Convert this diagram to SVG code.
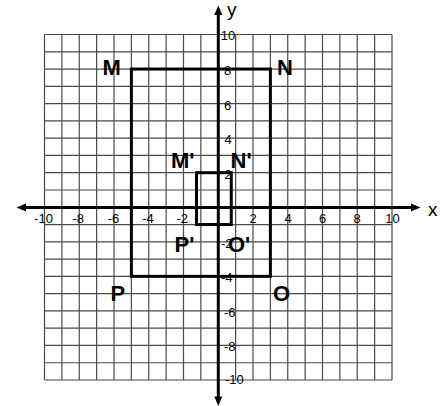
<svg xmlns="http://www.w3.org/2000/svg" width="445" height="406" viewBox="0 0 445 406">
<style>
.grid{stroke:#4a4a4a;stroke-width:1.2;fill:none}
.axis{stroke:#000;stroke-width:3;fill:none}
.rect{stroke:#000;stroke-width:3;fill:none}
.tick{font-family:"Liberation Sans",Arial,sans-serif;font-size:13px;fill:#000}
.tx{text-anchor:middle}
.lbl{font-family:"Liberation Sans",Arial,sans-serif;font-size:22px;font-weight:bold;fill:#000}
.ax{font-family:"Liberation Sans",Arial,sans-serif;font-size:19px;fill:#000}
</style>
<rect width="445" height="406" fill="#fff"/>
<g id="grid">
<path class="grid" d="M44.5 34.5V380M61.875 34.5V380M79.25 34.5V380M96.625 34.5V380M114 34.5V380M131.375 34.5V380M148.75 34.5V380M166.125 34.5V380M183.5 34.5V380M200.875 34.5V380M218.25 34.5V380M235.625 34.5V380M253 34.5V380M270.375 34.5V380M287.75 34.5V380M305.125 34.5V380M322.5 34.5V380M339.875 34.5V380M357.25 34.5V380M374.625 34.5V380M392 34.5V380
M44.5 34.5H392M44.5 51.775H392M44.5 69.05H392M44.5 86.325H392M44.5 103.6H392M44.5 120.875H392M44.5 138.15H392M44.5 155.425H392M44.5 172.7H392M44.5 189.975H392M44.5 207.25H392M44.5 224.525H392M44.5 241.8H392M44.5 259.075H392M44.5 276.35H392M44.5 293.625H392M44.5 310.9H392M44.5 328.175H392M44.5 345.45H392M44.5 362.725H392M44.5 380H392"/>
</g>
<g id="axes">
<path class="axis" d="M24 207.5H412M218.3 14V399"/>
<polygon points="16.5,207.5 26,203.5 26,211.5" fill="#000"/>
<polygon points="420.5,207.5 411,203.5 411,211.5" fill="#000"/>
<polygon points="218.3,5.5 214.3,15 222.3,15" fill="#000"/>
<polygon points="218.3,406 214.3,396.5 222.3,396.5" fill="#000"/>
<text class="ax" x="428" y="215.5">x</text>
<text class="ax" x="227" y="15.5">y</text>
</g>
<g id="x-ticks">
<text class="tick tx" x="43.5" y="222.5">-10</text>
<text class="tick tx" x="78.3" y="222.5">-8</text>
<text class="tick tx" x="113.5" y="222.5">-6</text>
<text class="tick tx" x="148" y="222.5">-4</text>
<text class="tick tx" x="182.3" y="222.5">-2</text>
<text class="tick tx" x="253" y="222.5">2</text>
<text class="tick tx" x="288" y="222.5">4</text>
<text class="tick tx" x="322.7" y="222.5">6</text>
<text class="tick tx" x="357.2" y="222.5">8</text>
<text class="tick tx" x="392.5" y="222.5">10</text>
</g>
<g id="y-ticks">
<text class="tick" x="220.7" y="39.7">10</text>
<text class="tick" x="224" y="74.5">8</text>
<text class="tick" x="224" y="109.7">6</text>
<text class="tick" x="224.5" y="143.8">4</text>
<text class="tick" x="224.5" y="178.5">2</text>
<text class="tick" x="221" y="247.5">-2</text>
<text class="tick" x="221" y="282">-4</text>
<text class="tick" x="224" y="316.8">-6</text>
<text class="tick" x="224" y="351.2">-8</text>
<text class="tick" x="225" y="384">-10</text>
</g>
<g id="MNOP">
<rect class="rect" x="131.375" y="69.05" width="139" height="207.3"/>
</g>
<g id="MpNpOpPp">
<rect class="rect" x="196.5" y="172.7" width="34.75" height="51.825"/>
</g>
<g id="labels">
<text class="lbl" x="102.5" y="74.5">M</text>
<text class="lbl" x="277" y="74.5">N</text>
<text class="lbl" x="110.5" y="301">P</text>
<text class="lbl" x="273" y="301">O</text>
<text class="lbl" x="171" y="168">M'</text>
<text class="lbl" x="230.5" y="168">N'</text>
<text class="lbl" x="174.5" y="251.7">P'</text>
<text class="lbl" x="228" y="251.7">O'</text>
</g>
</svg>
